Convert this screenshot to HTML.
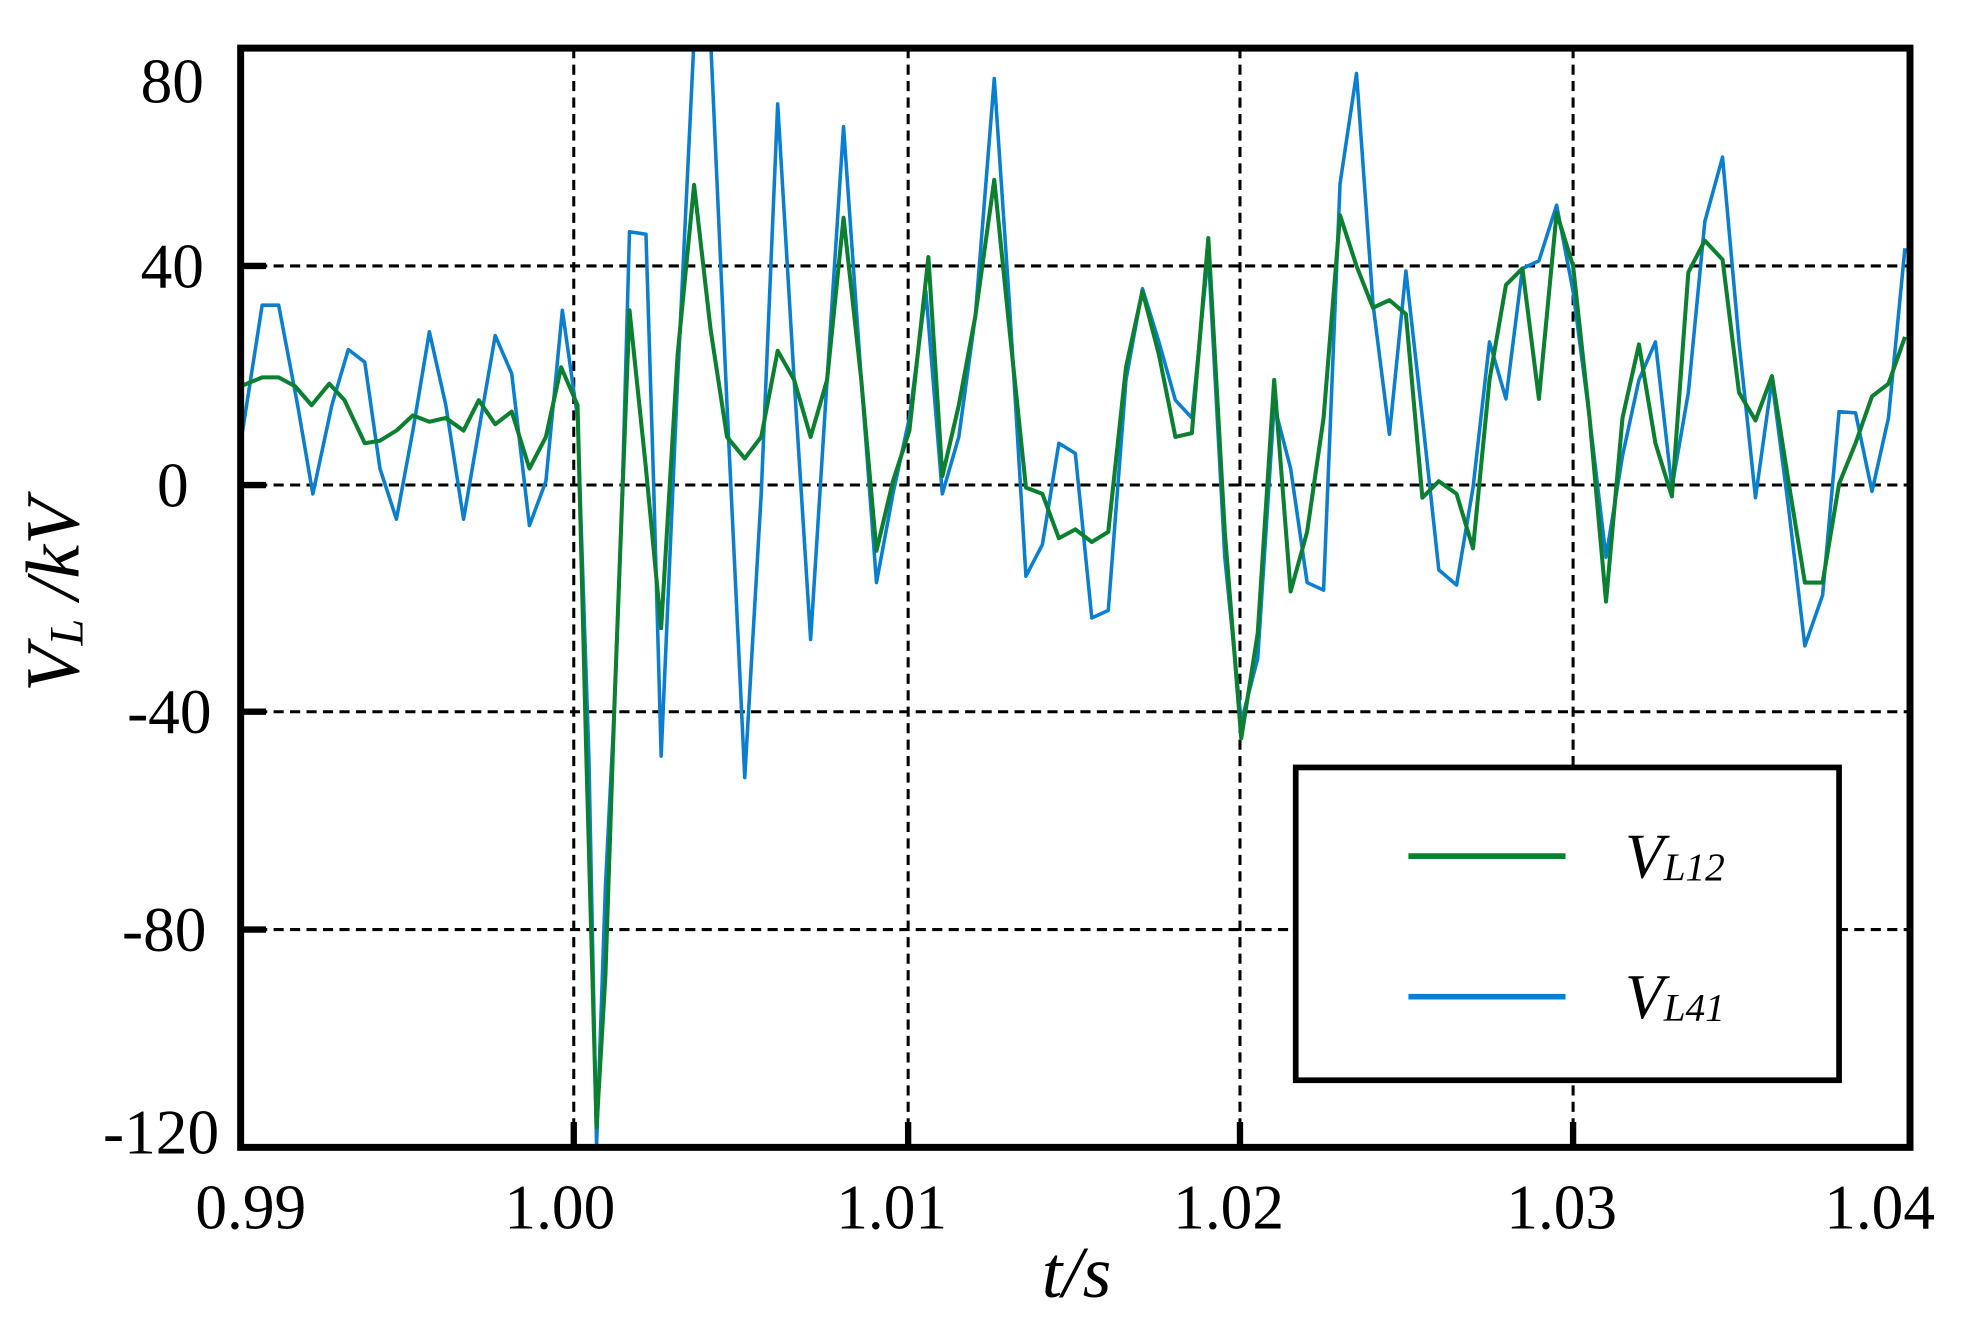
<!DOCTYPE html>
<html><head><style>html,body{margin:0;padding:0;background:#fff}svg{display:block}</style></head>
<body>
<svg width="1986" height="1331" viewBox="0 0 1568 1051" preserveAspectRatio="none" xmlns="http://www.w3.org/2000/svg" font-family="'Liberation Serif', serif">
<defs><clipPath id="c"><rect x="190" y="38" width="1318" height="868"/></clipPath></defs>
<g stroke="#000" stroke-width="2.4" stroke-dasharray="8,5">
<line x1="453" y1="38" x2="453" y2="906"/><line x1="717" y1="38" x2="717" y2="906"/>
<line x1="979" y1="38" x2="979" y2="906"/><line x1="1242" y1="38" x2="1242" y2="906"/>
<line x1="190" y1="210" x2="1508" y2="210"/><line x1="190" y1="383" x2="1508" y2="383"/>
<line x1="190" y1="562" x2="1508" y2="562"/><line x1="190" y1="734" x2="1508" y2="734"/>
</g>
<g clip-path="url(#c)" fill="none" stroke-linejoin="round">
<polyline stroke="#0a7fcf" stroke-width="2.8" points="190,350 207,241 220,241 235,320 247,390 262,320 275,276 288,286 300,370 313,410 326,340 339,262 352,320 366,410 378,340 391,265 404,295 418,415 431,380 444,245 456,330 465,600 471,905 478,700 485,560 491,400 497,183 510,185 516,380 522,597 535,300 548,30 561,30 574,320 588,614 601,390 614,82 627,300 640,505 653,300 666,100 680,300 692,460 705,390 718,330 731,230 744,390 757,345 770,250 785,62 797,240 810,455 823,430 836,350 849,358 862,488 875,482 889,300 902,228 915,270 928,316 941,330 954,200 967,440 980,570 993,520 1006,320 1019,370 1032,460 1045,466 1058,145 1071,58 1084,240 1097,343 1110,214 1123,330 1136,450 1150,462 1163,385 1176,270 1189,315 1202,212 1215,206 1229,162 1242,230 1255,330 1268,440 1281,360 1294,300 1307,270 1320,385 1333,310 1346,175 1360,124 1373,270 1386,393 1399,300 1412,400 1425,510 1439,470 1452,325 1465,326 1478,388 1491,330 1504,196"/>
<polyline stroke="#0a8030" stroke-width="3.2" points="190,305 207,298 220,298 233,305 246,320 260,303 272,316 288,350 300,348 313,340 326,328 339,333 352,330 366,340 378,316 391,335 404,325 418,370 431,345 443,290 456,320 463,600 471,890 478,770 485,560 491,400 497,245 510,370 522,496 535,280 548,146 561,260 574,345 588,362 601,345 614,277 627,300 640,345 653,300 666,172 680,300 692,435 705,380 718,340 733,203 744,376 757,320 770,250 785,142 797,260 810,385 823,390 836,425 849,418 862,428 875,420 889,290 902,230 915,280 928,345 941,342 954,188 967,420 980,583 993,500 1006,300 1019,467 1032,420 1045,330 1058,170 1071,210 1084,243 1097,237 1110,248 1123,393 1136,380 1150,390 1163,433 1176,300 1189,225 1202,212 1215,315 1229,168 1242,210 1255,330 1268,475 1281,330 1294,272 1307,350 1320,392 1333,215 1346,190 1360,205 1373,310 1386,332 1399,297 1412,380 1425,460 1439,460 1452,382 1465,350 1478,313 1491,303 1504,266"/>
</g>
<rect x="190" y="38" width="1318" height="868" fill="none" stroke="#000" stroke-width="5.5"/>
<g stroke="#000" stroke-width="5">
<line x1="190" y1="210" x2="210" y2="210"/><line x1="190" y1="383" x2="210" y2="383"/><line x1="190" y1="562" x2="210" y2="562"/><line x1="190" y1="734" x2="210" y2="734"/>
<line x1="453" y1="886" x2="453" y2="906"/><line x1="717" y1="886" x2="717" y2="906"/><line x1="979" y1="886" x2="979" y2="906"/><line x1="1242" y1="886" x2="1242" y2="906"/>
</g>
<rect x="1023" y="606" width="429" height="247" fill="#fff" stroke="#000" stroke-width="4.5"/>
<line x1="1112" y1="676" x2="1236" y2="676" stroke="#0a8030" stroke-width="4.5"/>
<line x1="1112" y1="787" x2="1236" y2="787" stroke="#0a7fcf" stroke-width="4.5"/>
<g font-style="italic" font-size="50"><text x="1283" y="693">V<tspan font-size="31" dy="2">L12</tspan></text><text x="1283" y="804">V<tspan font-size="31" dy="2">L41</tspan></text></g>
<g font-size="50" text-anchor="end">
<text x="161" y="81">80</text><text x="161" y="227">40</text><text x="149" y="400">0</text><text x="167" y="579">-40</text><text x="163" y="751">-80</text><text x="173" y="911">-120</text>
</g>
<g font-size="50" text-anchor="middle">
<text x="198" y="970">0.99</text><text x="442" y="970">1.00</text><text x="704" y="970">1.01</text><text x="970" y="970">1.02</text><text x="1233" y="970">1.03</text><text x="1484" y="970">1.04</text>
</g>
<text x="850" y="1024" font-size="58" font-style="italic" text-anchor="middle">t/s</text>
<text transform="translate(62,470) rotate(-90)" font-size="60" font-style="italic" text-anchor="middle">V<tspan font-size="38" dy="3">L</tspan><tspan dy="-3"> /kV</tspan></text>
</svg>
</body></html>
